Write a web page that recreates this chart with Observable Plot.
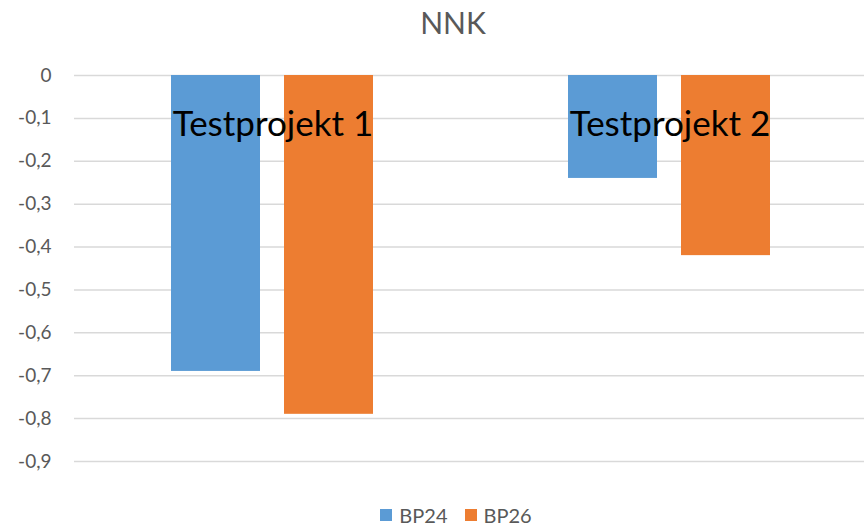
<!DOCTYPE html>
<html>
<head>
<meta charset="utf-8">
<script src="https://cdn.jsdelivr.net/npm/d3@7"></script>
<script src="https://cdn.jsdelivr.net/npm/@observablehq/plot@0.6"></script>
<style>
  body { margin: 0; background: #fff; font-family: Lato, "Open Sans", sans-serif; }
  #title { height: 44px; line-height: 44px; text-align: center; font-size: 30px; color: #595959; padding-left: 42px; box-sizing: border-box; }
  #legend { height: 33px; display: flex; justify-content: center; align-items: center; gap: 17px; font-size: 20px; color: #595959; padding-top: 8px; padding-left: 48px; box-sizing: border-box; }
  .item { display: flex; align-items: center; gap: 7px; }
  .sw { width: 12px; height: 12px; display: inline-block; }
  svg { display: block; }
</style>
</head>
<body>
<div id="title">NNK</div>
<div id="chart"></div>
<div id="legend"></div>
<script>
const categories = ["Testprojekt 1", "Testprojekt 2"];
const series = ["BP24", "BP26"];
const valuesBP24 = [-0.69, -0.24];
const valuesBP26 = [-0.79, -0.42];
const yTicks = [0, -0.1, -0.2, -0.3, -0.4, -0.5, -0.6, -0.7, -0.8, -0.9];
const colors = ["#5B9BD5", "#ED7D31"];

const data = [];
categories.forEach((c, i) => {
  data.push({category: c, series: "BP24", value: valuesBP24[i]});
  data.push({category: c, series: "BP26", value: valuesBP26[i]});
});

const fmt = d => d === 0 ? "0" : d.toFixed(1).replace(".", ",");

const chart = Plot.plot({
  width: 864,
  height: 450,
  marginTop: 31,
  marginBottom: 33,
  marginLeft: 73,
  marginRight: -4,
  style: {fontFamily: "Lato, 'Open Sans', sans-serif", background: "#fff", overflow: "hidden"},
  fx: {domain: categories, padding: 0, axis: null},
  x: {domain: series, paddingInner: 0.212, paddingOuter: 0.86, axis: null},
  y: {domain: [-0.9, 0], ticks: yTicks, tickFormat: fmt, label: null},
  color: {domain: series, range: colors},
  marks: [
    Plot.ruleY(yTicks, {stroke: "#d9d9d9", strokeWidth: 1.5}),
    Plot.barY(data, {fx: "category", x: "series", y: "value", fill: "series"}),
    Plot.axisY({ticks: yTicks, tickFormat: fmt, tickSize: 0, tickPadding: 23, fontSize: 19, fill: "#595959", facetAnchor: "left", label: null}),
    Plot.text(categories, {fx: d => d, text: d => d, frameAnchor: "top", dy: 36, fontSize: 35, fill: "#000"})
  ]
});
document.getElementById("chart").appendChild(chart);

const leg = document.getElementById("legend");
series.forEach((s, i) => {
  const it = document.createElement("span");
  it.className = "item";
  it.innerHTML = `<span class="sw" style="background:${colors[i]}"></span><span>${s}</span>`;
  leg.appendChild(it);
});
</script>
</body>
</html>
